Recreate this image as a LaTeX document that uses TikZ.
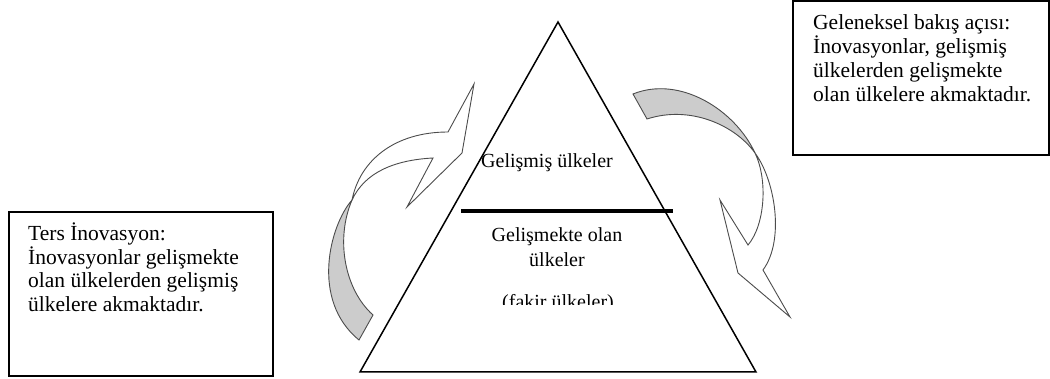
\documentclass[tikz,border=0pt]{standalone}
\usepackage{fontspec}
\setmainfont{Liberation Serif}
\begin{document}
\begin{tikzpicture}[x=1pt,y=-1pt,
  boxframe/.style={draw=black,line width=1.4pt},
  txt/.style={inner sep=0pt,font=\fontsize{20}{23.5}\selectfont},
  boxtxt/.style={inner sep=0pt,font=\fontsize{21.5}{23.5}\selectfont},
  arrowband/.style={draw=black!70,line width=0.9pt,line join=miter},
  backband/.style={arrowband,fill=black!20},
  frontband/.style={arrowband,fill=white}]
\useasboundingbox (0,0) rectangle (1050,379);
% triangle
\draw[line width=1.5pt,line join=miter] (558,22) coordinate (apex) -- (756,372) coordinate (br) -- (360,372) coordinate (bl) -- cycle;
\draw[line width=4.5pt] (461,211) coordinate (dl) -- (673,211) coordinate (dr);
\node[txt,anchor=base] (top) at (547,168) {Gelişmiş ülkeler};
\node[txt,anchor=base] (mid1) at (557,242) {Gelişmekte olan};
\node[txt,anchor=base] (mid2) at (557,267) {ülkeler};
\begin{scope}
\clip (480,285) rectangle (640,305);
\node[txt,anchor=base] (poor) at (558,309) {(fakir ülkeler)};
\end{scope}
% left curved arrow
\draw[backband] (352,200) .. controls (330,225) and (310,300) .. (359,340)
  -- (373,315) .. controls (345,290) and (335,240) .. (352,200) -- cycle;
\draw[frontband] (352,200) .. controls (360,160) and (395,132) .. (448,132)
  -- (474,84) -- (462,153) -- (407,207) -- (433,158)
  .. controls (395,160) and (365,172) .. (352,200) -- cycle;
% right curved arrow
\draw[backband] (633,94) .. controls (680,75) and (735,110) .. (755,153)
  .. controls (735,125) and (690,105) .. (647,119) -- cycle;
\draw[frontband] (755,153) .. controls (775,180) and (785,240) .. (763,270)
  -- (790,317) -- (738,273) -- (720,200) -- (748,245)
  .. controls (765,225) and (768,180) .. (755,153) -- cycle;
% left box
\draw[boxframe] (9,212) rectangle (273,376);
\node[boxtxt,anchor=base west] (l1) at (28,241) {Ters İnovasyon:};
\node[boxtxt,anchor=base west] (l2) at (28,264.5) {İnovasyonlar gelişmekte};
\node[boxtxt,anchor=base west] (l3) at (28,288) {olan ülkelerden gelişmiş};
\node[boxtxt,anchor=base west] (l4) at (28,311.5) {ülkelere akmaktadır.};
% right box
\draw[boxframe] (793,1) rectangle (1049,155);
\node[boxtxt,anchor=base west] (r1) at (813,30) {Geleneksel bakış açısı:};
\node[boxtxt,anchor=base west] (r2) at (813,54) {İnovasyonlar, gelişmiş};
\node[boxtxt,anchor=base west] (r3) at (813,78) {ülkelerden gelişmekte};
\node[boxtxt,anchor=base west] (r4) at (813,102) {olan ülkelere akmaktadır.};
\end{tikzpicture}
\end{document}
